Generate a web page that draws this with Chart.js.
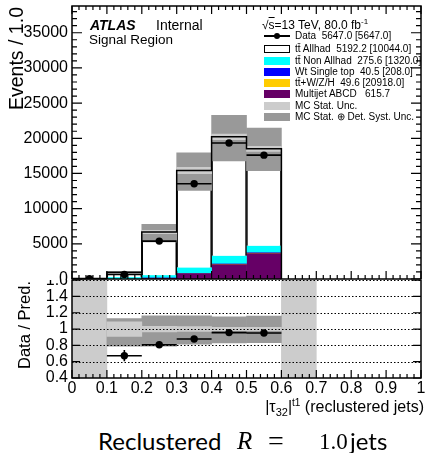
<!DOCTYPE html>
<html>
<head>
<meta charset="utf-8">
<script src="https://cdn.jsdelivr.net/npm/chart.js@4.4.0/dist/chart.umd.min.js"></script>
<style>
  body { margin: 0; background: #fff; }
  #wrap { position: relative; width: 425px; height: 453px; overflow: hidden; font-family: "Liberation Sans", Arial, sans-serif; color: #000; }
  canvas { position: absolute; left: 0; }
  #topChart { top: 0; z-index: 1; }
  #ratioChart { top: 260px; z-index: 2; clip-path: inset(20px 0 0 0); }
  .t { position: absolute; white-space: nowrap; z-index: 5; }
  .leg { position: absolute; left: 295px; font-size: 10px; line-height: 10px; white-space: nowrap; z-index: 5; }
  .box { position: absolute; left: 264px; width: 26px; height: 8px; z-index: 5; box-sizing: border-box; }
  .rot { position: absolute; transform-origin: top left; transform: rotate(-90deg); white-space: nowrap; z-index: 5; }
  .cap { position: absolute; top: 427px; font-size: 25px; line-height: 28px; white-space: nowrap; z-index: 5; }
  .sans { font-family: Lato, "Liberation Sans", sans-serif; font-size: 24px; }
  .math { font-family: "Liberation Serif", "DejaVu Serif", serif; }
</style>
</head>
<body>
<div id="wrap">
  <canvas id="topChart" width="425" height="290"></canvas>
  <canvas id="ratioChart" width="425" height="150"></canvas>

  <div class="rot" style="left:6px; top:110px; font-size:19.5px; line-height:20px;">Events / 1.0</div>
  <div class="rot" style="left:16px; top:369px; font-size:16.5px; line-height:17px;">Data / Pred.</div>

  <div class="t" style="left:90px; top:17px; font-size:14px; line-height:16px; font-weight:bold; font-style:italic;">ATLAS</div>
  <div class="t" style="left:156px; top:17px; font-size:14px; line-height:16px;">Internal</div>
  <div class="t" style="left:89px; top:32px; font-size:13.5px; line-height:16px;">Signal Region</div>

  <div class="t" style="left:262px; top:18px; font-size:12px; line-height:14px;">√<span style="text-decoration:overline">s</span>=13 TeV, 80.0 fb<sup style="font-size:8px; line-height:0;">-1</sup></div>

  <div class="box" style="top:35px; height:2px; background:#000;"></div>
  <div class="box" style="left:274px; top:32.7px; width:6px; height:6px; border-radius:50%; background:#000;"></div>
  <div class="leg" style="top:30.5px;">Data&nbsp; 5647.0 [5647.0]</div>

  <div class="box" style="top:45px; background:#fff; border:1px solid #000;"></div>
  <div class="leg" style="top:43.8px;">tt̄ Allhad&nbsp; 5192.2 [10044.0]</div>

  <div class="box" style="top:56.7px; background:#00ffff;"></div>
  <div class="leg" style="top:55.5px;">tt̄ Non Allhad&nbsp; 275.6 [1320.0]</div>

  <div class="box" style="top:68px; background:#0000ff;"></div>
  <div class="leg" style="top:66.8px;">Wt Single top&nbsp; 40.5 [208.0]</div>

  <div class="box" style="top:78.7px; background:#ffcc00;"></div>
  <div class="leg" style="top:77.5px;">tt̄+W/Z/H&nbsp; 49.6 [20918.0]</div>

  <div class="box" style="top:90px; background:#660066;"></div>
  <div class="leg" style="top:88.8px;">Multijet ABCD&nbsp;&nbsp; 615.7</div>

  <div class="box" style="top:101.7px; background:#cccccc;"></div>
  <div class="leg" style="top:100.5px;">MC Stat. Unc.</div>

  <div class="box" style="top:112.7px; background:#999999;"></div>
  <div class="leg" style="top:111.5px;">MC Stat. ⊕ Det. Syst. Unc.</div>

  <div class="t" style="right:1px; top:398px; font-size:16px; line-height:18px;">|τ<sub style="font-size:11px; line-height:0;">32</sub>|<sup style="font-size:10px; line-height:0;">t1</sup> (reclustered jets)</div>

  <div class="cap sans" style="left:98px;">Reclustered</div>
  <div class="cap math" style="left:237px; font-style:italic;">R</div>
  <div class="cap math" style="left:268px; font-size:28px;">=</div>
  <div class="cap math" style="left:319px; font-size:23px; top:428px;">1.0</div>
  <div class="cap sans" style="left:350px;">jets</div>
</div>

<script>
// bins of |tau32| (reclustered jets), bin width 0.1
const binCenters = [0.05, 0.15, 0.25, 0.35, 0.45, 0.55];
const multijet   = [0, 40, 230, 850, 2130, 3690];
const ttV        = [0, 2, 10, 30, 70, 90];
const wtSingle   = [0, 2, 8, 20, 50, 70];
const ttNonAll   = [0, 190, 270, 720, 1050, 870];
const ttAllhad   = [0, 716, 6152, 13800, 16900, 13780];
const dataVals   = [50, 640, 5390, 13530, 19330, 17600];
const dataErr    = [10, 65, 150, 240, 290, 270];
// relative uncertainties on the prediction
const systUp     = [0, 0.13, 0.163, 0.163, 0.151, 0.16];
const systDown   = [0, 0.21, 0.21, 0.184, 0.17, 0.167];
const statRel    = [0, 0.09, 0.035, 0.03, 0.02, 0.02];
// bins where the ratio is not defined
const emptyBins  = [0.05, 0.65];

const xTicks     = [0, 0.1, 0.2, 0.3, 0.4, 0.5, 0.6, 0.7, 0.8, 0.9, 1];
const yTicks     = [0, 5000, 10000, 15000, 20000, 25000, 30000, 35000];
const ratioTicks = [0.4, 0.6, 0.8, 1, 1.2, 1.4, 1.6];

Chart.defaults.font.family = '"Liberation Sans", Arial, sans-serif';
Chart.defaults.color = '#000';

const fmt = v => String(Math.round(v * 10) / 10);

// stacked prediction as floating bars
const stackParts = [multijet, ttV, wtSingle, ttNonAll, ttAllhad];
let base = binCenters.map(() => 0);
const stackData = stackParts.map(arr => {
    const d = arr.map((v, i) => ({ x: binCenters[i], y: [base[i], base[i] + v] }));
    base = base.map((b, i) => b + arr[i]);
    return d;
});
const mcTotal = base;
const filled = binCenters.map((c, i) => i).filter(i => mcTotal[i] > 0);

const bgPlugin = {
    id: 'bg',
    beforeDraw(chart) {
        const ctx = chart.ctx;
        ctx.save();
        ctx.fillStyle = '#fff';
        ctx.fillRect(0, 0, chart.width, chart.height);
        ctx.restore();
    }
};

// frame and inward ticks, ROOT style
const frameTicks = {
    id: 'frameTicks',
    afterDraw(chart, args, o) {
        const { ctx, chartArea: a, scales } = chart;
        const x = scales.x, y = scales.y;
        ctx.save();
        ctx.strokeStyle = '#000';
        ctx.lineWidth = 1.2;
        ctx.beginPath();
        const tickX = (v, len) => {
            const px = x.getPixelForValue(v);
            ctx.moveTo(px, a.bottom); ctx.lineTo(px, a.bottom - len);
            if (o.topSide) { ctx.moveTo(px, a.top); ctx.lineTo(px, a.top + len); }
        };
        const tickY = (v, len) => {
            const py = y.getPixelForValue(v);
            ctx.moveTo(a.left, py); ctx.lineTo(a.left + len, py);
            ctx.moveTo(a.right, py); ctx.lineTo(a.right - len, py);
        };
        for (let i = 0; i * o.xMinor <= 1 + 1e-9; i++) tickX(i * o.xMinor, o.xMinorLen);
        xTicks.forEach(v => tickX(v, o.xMajorLen));
        if (o.yMinor) {
            for (let i = 0; y.min + i * o.yMinor <= y.max; i++) tickY(y.min + i * o.yMinor, o.yMinorLen);
        }
        o.yMajor.forEach(v => tickY(v, o.yMajorLen));
        ctx.stroke();
        ctx.lineWidth = 1.5;
        ctx.strokeRect(a.left, a.top, a.right - a.left, a.bottom - a.top);
        ctx.restore();
    }
};

// data error bars (and dotted reference lines) drawn just under the points
const errBars = {
    id: 'errBars',
    beforeDatasetDraw(chart, args, o) {
        if (args.index !== o.index) return;
        const { ctx, chartArea: a, scales: { x, y } } = chart;
        ctx.save();
        if (o.grid) {
            ctx.strokeStyle = '#000';
            ctx.lineWidth = 1;
            ctx.setLineDash([1.5, 2]);
            ctx.beginPath();
            o.grid.forEach(v => {
                const py = Math.round(y.getPixelForValue(v)) + 0.5;
                ctx.moveTo(a.left, py); ctx.lineTo(a.right, py);
            });
            ctx.stroke();
            ctx.setLineDash([]);
        }
        ctx.strokeStyle = '#000';
        ctx.lineWidth = 1.6;
        ctx.beginPath();
        o.points.forEach(p => {
            const px = x.getPixelForValue(p.x), py = y.getPixelForValue(p.y);
            ctx.moveTo(x.getPixelForValue(p.x - 0.05), py);
            ctx.lineTo(x.getPixelForValue(p.x + 0.05), py);
            ctx.moveTo(px, y.getPixelForValue(p.y - p.e));
            ctx.lineTo(px, y.getPixelForValue(p.y + p.e));
        });
        ctx.stroke();
        ctx.restore();
    }
};

const barOpts = { type: 'bar', grouped: false, barPercentage: 1, categoryPercentage: 1, borderWidth: 0 };

// ---- main panel ----
const stackColors = ['#660066', '#ffcc00', '#0000ff', '#00ffff', '#ffffff'];
const topDatasets = stackData.map((d, k) => Object.assign({}, barOpts, {
    data: d.filter((p, i) => stackParts[k][i] > 0),
    backgroundColor: stackColors[k],
    order: 10 - k
}));
topDatasets[4].borderColor = '#000';
topDatasets[4].borderWidth = 1.5;

topDatasets.push(Object.assign({}, barOpts, {
    data: filled.map(i => ({ x: binCenters[i], y: [mcTotal[i] * (1 - systDown[i]), mcTotal[i] * (1 + systUp[i])] })),
    backgroundColor: '#999999',
    order: 4
}));
topDatasets.push(Object.assign({}, barOpts, {
    data: filled.map(i => ({ x: binCenters[i], y: [mcTotal[i] * (1 - statRel[i]), mcTotal[i] * (1 + statRel[i])] })),
    backgroundColor: '#cccccc',
    order: 3
}));

// outline of the total prediction
const outline = [{ x: binCenters[filled[0]] - 0.05, y: 0 }];
filled.forEach(i => outline.push({ x: binCenters[i] - 0.05, y: mcTotal[i] }));
outline.push({ x: binCenters[filled[filled.length - 1]] + 0.05, y: 0 });
topDatasets.push({
    type: 'line', data: outline, stepped: 'before', borderColor: '#000', borderWidth: 1.5,
    pointRadius: 0, fill: false, order: 2
});

const dataPoints = binCenters.map((c, i) => ({ x: c, y: dataVals[i] }));
topDatasets.push({
    type: 'line', data: dataPoints, showLine: false, pointRadius: 3.7,
    pointBackgroundColor: '#000', pointBorderColor: '#000', pointBorderWidth: 0, order: 1
});
const topDataIndex = topDatasets.length - 1;

new Chart(document.getElementById('topChart'), {
    type: 'bar',
    data: { datasets: topDatasets },
    options: {
        responsive: false,
        animation: false,
        events: [],
        layout: { padding: { left: 0, right: 3, top: 6, bottom: 11 } },
        plugins: {
            legend: { display: false },
            tooltip: { enabled: false },
            frameTicks: { topSide: true, xMinor: 0.02, xMinorLen: 4, xMajorLen: 8, yMajor: yTicks, yMinor: 1000, yMinorLen: 5, yMajorLen: 10 },
            errBars: { index: topDataIndex, points: binCenters.map((c, i) => ({ x: c, y: dataVals[i], e: dataErr[i] })) }
        },
        scales: {
            x: {
                type: 'linear', min: 0, max: 1, display: false, offset: false,
                afterBuildTicks: s => { s.ticks = xTicks.map(v => ({ value: v })); }
            },
            y: {
                type: 'linear', min: 0, max: 38800,
                afterBuildTicks: s => { s.ticks = yTicks.map(v => ({ value: v })); },
                grid: { display: false, drawTicks: false },
                border: { display: false },
                ticks: { font: { size: 16 }, padding: 4, color: '#000', autoSkip: false, callback: v => String(v) },
                afterFit: s => { s.width = 72; s.paddingTop = 0; s.paddingBottom = 0; }
            }
        }
    },
    plugins: [bgPlugin, frameTicks, errBars]
});

// ---- ratio panel ----
const ratioDatasets = [];
ratioDatasets.push(Object.assign({}, barOpts, {
    data: emptyBins.map(c => ({ x: c, y: [0.4, 1.7] })),
    backgroundColor: '#cccccc',
    order: 5
}));
ratioDatasets.push(Object.assign({}, barOpts, {
    data: filled.map(i => ({ x: binCenters[i], y: [1 - systDown[i], 1 + systUp[i]] })),
    backgroundColor: '#999999',
    order: 4
}));
ratioDatasets.push(Object.assign({}, barOpts, {
    data: filled.map(i => ({ x: binCenters[i], y: [1 - statRel[i], 1 + statRel[i]] })),
    backgroundColor: '#cccccc',
    order: 3
}));
const ratioPoints = filled.map(i => ({ x: binCenters[i], y: dataVals[i] / mcTotal[i], e: dataErr[i] / mcTotal[i] }));
ratioDatasets.push({
    type: 'line', data: ratioPoints.map(p => ({ x: p.x, y: p.y })), showLine: false, pointRadius: 3.7,
    pointBackgroundColor: '#000', pointBorderColor: '#000', pointBorderWidth: 0, order: 1
});

new Chart(document.getElementById('ratioChart'), {
    type: 'bar',
    data: { datasets: ratioDatasets },
    options: {
        responsive: false,
        animation: false,
        events: [],
        layout: { padding: { left: 0, right: 3, top: 12, bottom: 0 } },
        plugins: {
            legend: { display: false },
            tooltip: { enabled: false },
            frameTicks: { topSide: true, xMinor: 0.02, xMinorLen: 4, xMajorLen: 8, yMajor: ratioTicks, yMinor: 0, yMajorLen: 8 },
            errBars: { index: ratioDatasets.length - 1, points: ratioPoints, grid: [0.6, 0.8, 1, 1.2, 1.4, 1.6] }
        },
        scales: {
            x: {
                type: 'linear', min: 0, max: 1, offset: false,
                afterBuildTicks: s => { s.ticks = xTicks.map(v => ({ value: v })); },
                grid: { display: false, drawTicks: false },
                border: { display: false },
                ticks: { font: { size: 16 }, padding: 1, autoSkip: false, maxRotation: 0, color: '#000', callback: v => fmt(v) },
                afterFit: s => { s.height = 32; s.paddingLeft = 0; s.paddingRight = 0; }
            },
            y: {
                type: 'linear', min: 0.4, max: 1.7,
                afterBuildTicks: s => { s.ticks = ratioTicks.map(v => ({ value: v })); },
                grid: { display: false, drawTicks: false },
                border: { display: false },
                ticks: { font: { size: 16 }, padding: 4, color: '#000', autoSkip: false, callback: v => fmt(v) },
                afterFit: s => { s.width = 72; s.paddingTop = 0; s.paddingBottom = 0; }
            }
        }
    },
    plugins: [bgPlugin, frameTicks, errBars]
});
</script>
</body>
</html>
